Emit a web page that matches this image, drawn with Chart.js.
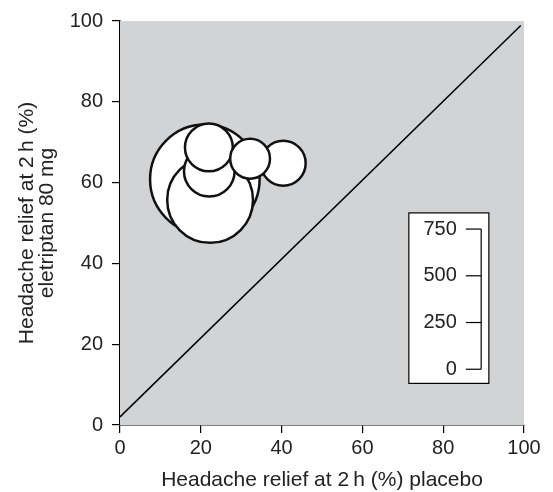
<!DOCTYPE html>
<html>
<head>
<meta charset="utf-8">
<script src="https://cdn.jsdelivr.net/npm/chart.js@4.4.1/dist/chart.umd.min.js"></script>
<style>
  html, body { margin: 0; padding: 0; background: #fff; }
  #wrap { width: 553px; height: 492px; }
</style>
</head>
<body>
<div id="wrap"><canvas id="myChart" width="553" height="492"></canvas></div>
<script>
// headache relief at 2 h (%) for each trial, placebo vs eletriptan 80 mg
var placebo = [21, 22.3, 22.1, 22, 40.4, 32.2];
var eletriptan = [60.8, 55.7, 62.8, 68.7, 64.8, 65.9];
// trial size (patients) -> bubble area
var patients = [750, 460, 160, 143, 126, 99];
// size key in the inset box
var sizeTicks = [0, 250, 500, 750];
// reference line
var lineX = [0, 99.2];
var lineY = [2, 98.9];

var font = "'Liberation Sans', Arial, sans-serif";

var bubbleData = [];
for (var i = 0; i < placebo.length; i++) {
    bubbleData.push({ x: placebo[i], y: eletriptan[i], r: 2.0 * Math.sqrt(patients[i]) });
}
var lineData = [];
for (var j = 0; j < lineX.length; j++) {
    lineData.push({ x: lineX[j], y: lineY[j] });
}

var grayBg = {
    id: 'grayBg',
    beforeDatasetsDraw: function (chart) {
        var a = chart.chartArea, ctx = chart.ctx;
        ctx.save();
        ctx.fillStyle = '#d2d3d5';
        ctx.fillRect(a.left, a.top, a.right - a.left, a.bottom - a.top);
        ctx.restore();
    }
};

var sizeKey = {
    id: 'sizeKey',
    afterDatasetsDraw: function (chart) {
        var xs = chart.scales.x, ys = chart.scales.y, ctx = chart.ctx;
        var bx0 = xs.getPixelForValue(71.5), bx1 = xs.getPixelForValue(91.3);
        var by0 = ys.getPixelForValue(52.5), by1 = ys.getPixelForValue(10.3);
        ctx.save();
        ctx.fillStyle = '#fff';
        ctx.fillRect(bx0, by0, bx1 - bx0, by1 - by0);
        ctx.strokeStyle = '#000';
        ctx.lineWidth = 1.2;
        ctx.strokeRect(bx0, by0, bx1 - bx0, by1 - by0);
        var lx = xs.getPixelForValue(89.4), tx = xs.getPixelForValue(85.6);
        var top = ys.getPixelForValue(48.5), bot = ys.getPixelForValue(13.8);
        var maxT = sizeTicks[sizeTicks.length - 1];
        ctx.beginPath();
        ctx.moveTo(lx, top);
        ctx.lineTo(lx, bot);
        ctx.stroke();
        ctx.fillStyle = '#222';
        ctx.font = '20px ' + font;
        ctx.textAlign = 'right';
        ctx.textBaseline = 'middle';
        sizeTicks.forEach(function (t) {
            var py = bot - (bot - top) * t / maxT;
            ctx.beginPath();
            ctx.moveTo(tx, py);
            ctx.lineTo(lx, py);
            ctx.stroke();
            ctx.fillText(String(t), tx - 9, py);
        });
        ctx.restore();
    }
};

var ctx = document.getElementById('myChart').getContext('2d');
var myChart = new Chart(ctx, {
    type: 'bubble',
    data: {
        datasets: [
            {
                type: 'line',
                data: lineData,
                borderColor: '#000',
                borderWidth: 1.5,
                pointRadius: 0,
                fill: false
            },
            {
                type: 'bubble',
                data: bubbleData,
                backgroundColor: '#fff',
                borderColor: '#111',
                borderWidth: 2.5,
                hoverRadius: 0
            }
        ]
    },
    options: {
        responsive: false,
        animation: false,
        layout: { autoPadding: false, padding: { top: 19, right: 29, left: 0, bottom: 0 } },
        plugins: {
            legend: { display: false },
            tooltip: { enabled: false }
        },
        scales: {
            x: {
                type: 'linear',
                min: 0, max: 100,
                ticks: { stepSize: 20, color: '#222', font: { family: font, size: 20 }, padding: 3 },
                grid: { drawOnChartArea: false, drawTicks: true, tickLength: 8, color: '#000', lineWidth: 1.2 },
                border: { display: true, color: '#000', width: 1.5 },
                title: {
                    display: true,
                    text: 'Headache relief at 2\u2009h (%) placebo',
                    color: '#222',
                    font: { family: font, size: 21, lineHeight: 1.15 },
                    padding: { top: 4, bottom: 0 }
                },
                afterFit: function (s) { s.height = 67; }
            },
            y: {
                type: 'linear',
                min: 0, max: 100,
                ticks: { stepSize: 20, color: '#222', font: { family: font, size: 20 }, padding: 9 },
                grid: { drawOnChartArea: false, drawTicks: true, tickLength: 8, color: '#000', lineWidth: 1.2 },
                border: { display: true, color: '#000', width: 1.5 },
                title: {
                    display: true,
                    text: ['Headache relief at 2\u2009h (%)', 'eletriptan 80 mg'],
                    color: '#222',
                    font: { family: font, size: 21, lineHeight: 0.95 },
                    padding: { top: 17, bottom: 0 }
                },
                afterFit: function (s) { s.width = 120; }
            }
        }
    },
    plugins: [grayBg, sizeKey]
});
</script>
</body>
</html>
